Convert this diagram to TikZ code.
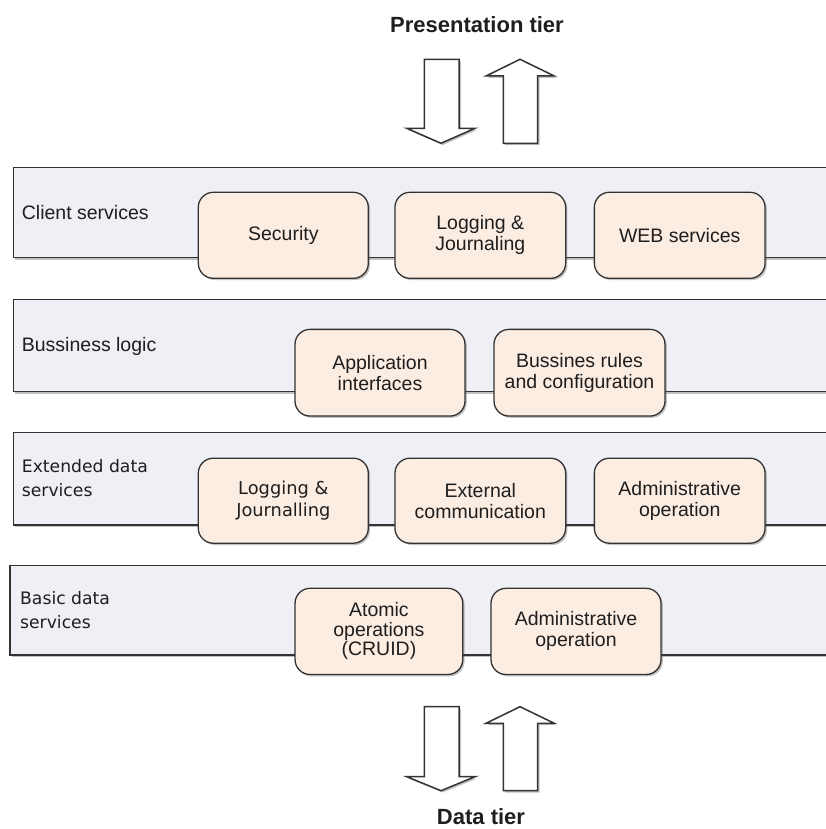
\documentclass[tikz,border=0pt]{standalone}
\usepackage{fontspec}
\setmainfont{Liberation Sans}
\newfontfamily\verdfont{DejaVu Sans}
\usetikzlibrary{shadows}
\definecolor{bandfill}{HTML}{EEF0F5}
\definecolor{boxfill}{HTML}{FCEDE2}
\definecolor{edge}{HTML}{333333}
\definecolor{ink}{HTML}{1E1E1E}
\tikzset{
  soft shadow/.style={drop shadow={shadow xshift=1.8pt, shadow yshift=-1.8pt, opacity=0.35, fill=black!70}},
  band/.style={draw=edge, line width=1.3pt, fill=bandfill, soft shadow},
  svc/.style={draw=edge, line width=1.3pt, fill=boxfill, rounded corners=15pt,
    align=center, inner sep=0pt, text=ink, soft shadow,
    font=\fontsize{19.5}{21}\selectfont},
  svcv/.style={svc, font=\verdfont\fontsize{17.8}{21.4}\selectfont},
  tierlabel/.style={anchor=west, align=left, inner sep=0pt, text=ink,
    font=\fontsize{19.5}{24}\selectfont},
  tierlabelv/.style={tierlabel, font=\verdfont\fontsize{17.2}{24.5}\selectfont},
  heading/.style={inner sep=0pt, text=ink, font=\bfseries\fontsize{22}{24}\selectfont},
  flow/.style={draw=edge, line width=1.5pt, fill=white, line join=miter, soft shadow},
}
\begin{document}
\begin{tikzpicture}[x=1pt, y=-1pt]
\useasboundingbox (0,0) rectangle (826,829);
\clip (0,0) rectangle (826,829);

% heading and flow arrows to the presentation tier
\node[heading] (pres) at (477,25) {Presentation tier};
\draw[flow] (424.3,59.3) -- (459,59.3) -- (459,128.3) -- (475,128.3) -- (441,143.3)
  -- (406.7,128.3) -- (424.3,128.3) -- cycle;
\draw[flow] (520,59.3) -- (554.3,76) -- (537.7,76) -- (537.7,143.3) -- (503.3,143.3)
  -- (503.3,76) -- (486,76) -- cycle;

% layer bands
\draw[band] (13.3,167.3) rectangle (840,257.7);
\draw[band] (13.3,299.3) rectangle (840,391.7);
\draw[band] (13.3,432.7) rectangle (840,525);
\draw[band] (10,565.5) rectangle (840,655);

% band titles
\node[tierlabel] (lclient) at (21.7,212.3) {Client services};
\node[tierlabel] (lbiz) at (21.7,346) {Bussiness logic};
\node[tierlabelv] (lext) at (21.7,478) {Extended data\\services};
\node[tierlabelv] (lbasic) at (20,610.2) {Basic data\\services};

% client services
\node[svc, minimum width=170pt, minimum height=86pt] (sec) at (283.3,235.3) {Security};
\node[svc, minimum width=170.7pt, minimum height=86pt] (log1) at (480.3,235.3) {Logging \&\\Journaling};
\node[svc, minimum width=170.7pt, minimum height=86pt] (web) at (679.7,235.3) {WEB services};

% business logic
\node[svc, minimum width=170pt, minimum height=86.7pt] (app) at (380,372.7) {Application\\interfaces};
\node[svc, minimum width=171pt, minimum height=86.7pt] (rules) at (579.5,372.7) {Bussines rules\\and configuration};

% extended data services
\node[svcv, minimum width=170pt, minimum height=85pt] (log2) at (283.3,500.7) {Logging \&\\Journalling};
\node[svc, minimum width=170.7pt, minimum height=85pt] (ext) at (480.3,500.7) {External\\communication};
\node[svc, minimum width=170.7pt, minimum height=85pt] (adm1) at (679.7,500.7) {Administrative\\operation};

% basic data services
\node[svc, minimum width=167.7pt, minimum height=86.2pt, font=\fontsize{19.5}{19.5}\selectfont] (atom) at (378.9,631.4) {Atomic\\operations\\(CRUID)};
\node[svc, minimum width=170pt, minimum height=86.2pt] (adm2) at (576,631.4) {Administrative\\operation};

% flow arrows to the data tier
\draw[flow] (424.3,706.7) -- (459,706.7) -- (459,776.7) -- (475,776.7) -- (441,790.7)
  -- (406.7,776.7) -- (424.3,776.7) -- cycle;
\draw[flow] (520,706.7) -- (554.3,723.3) -- (537.7,723.3) -- (537.7,790.7) -- (503.3,790.7)
  -- (503.3,723.3) -- (486,723.3) -- cycle;
\node[heading] (data) at (481,817) {Data tier};
\end{tikzpicture}
\end{document}
